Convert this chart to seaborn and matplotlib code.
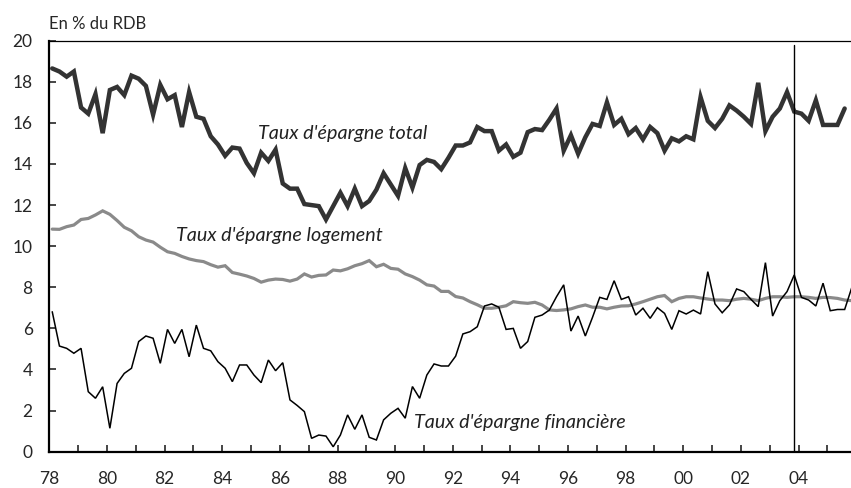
import numpy as np
import pandas as pd
import matplotlib
matplotlib.use("Agg")
import matplotlib.pyplot as plt
import seaborn as sns

# Quarterly saving rates, % of disposable income, from 1978 Q1
taux_total = [
    18.65, 18.5, 18.25, 18.5, 16.75, 16.45, 17.4, 15.5, 17.6, 17.75,
    17.35, 18.3, 18.15, 17.8, 16.4, 17.85, 17.15, 17.35, 15.8, 17.5,
    16.3, 16.2, 15.35, 14.95, 14.4, 14.8, 14.75, 14.05, 13.55, 14.55,
    14.15, 14.7, 13.05, 12.8, 12.8, 12.05, 12.0, 11.95, 11.3, 11.95,
    12.6, 11.95, 12.8, 11.95, 12.2, 12.75, 13.55, 13.0, 12.45, 13.8,
    12.85, 13.95, 14.2, 14.1, 13.75, 14.3, 14.9, 14.9, 15.05, 15.8,
    15.6, 15.6, 14.65, 14.95, 14.35, 14.55, 15.55, 15.7, 15.65, 16.15,
    16.7, 14.65, 15.4, 14.5, 15.3, 15.95, 15.85, 17.0, 15.9, 16.2,
    15.45, 15.75, 15.2, 15.8, 15.5, 14.65, 15.25, 15.1, 15.35, 15.2,
    17.25, 16.1, 15.75, 16.2, 16.85, 16.6, 16.3, 15.95, 17.95, 15.6,
    16.3, 16.7, 17.5, 16.55, 16.45, 16.1, 17.1, 15.9, 15.9, 15.9,
    16.7,
]
taux_logement = [
    10.83, 10.82, 10.95, 11.03, 11.3, 11.35, 11.52, 11.72, 11.55, 11.25,
    10.92, 10.75, 10.46, 10.3, 10.2, 9.95, 9.73, 9.65, 9.5, 9.38,
    9.3, 9.25, 9.1, 8.98, 9.05, 8.72, 8.64, 8.55, 8.43, 8.25,
    8.35, 8.4, 8.38, 8.3, 8.4, 8.65, 8.5, 8.58, 8.6, 8.84,
    8.8, 8.9, 9.05, 9.15, 9.3, 9.0, 9.12, 8.92, 8.88, 8.65,
    8.52, 8.35, 8.12, 8.06, 7.8, 7.8, 7.55, 7.48, 7.3, 7.15,
    6.98, 6.98, 7.03, 7.1, 7.3, 7.25, 7.22, 7.27, 7.14, 6.9,
    6.87, 6.9, 6.95, 7.06, 7.14, 7.03, 7.03, 6.95, 7.03, 7.09,
    7.1, 7.19, 7.3, 7.42, 7.54, 7.6, 7.3, 7.46, 7.54, 7.54,
    7.48, 7.43, 7.38, 7.38, 7.35, 7.42, 7.46, 7.42, 7.35, 7.46,
    7.54, 7.54, 7.51, 7.54, 7.54, 7.51, 7.46, 7.51, 7.5, 7.46,
    7.38, 7.35,
]
taux_financier = [
    6.81, 5.14, 5.03, 4.79, 5.03, 2.92, 2.6, 3.16, 1.14, 3.32,
    3.81, 4.06, 5.36, 5.63, 5.52, 4.3, 5.95, 5.27, 5.95, 4.62,
    6.16, 5.03, 4.91, 4.38, 4.06, 3.41, 4.22, 4.22, 3.73, 3.36,
    4.46, 3.94, 4.33, 2.52, 2.25, 1.95, 0.65, 0.81, 0.76, 0.24,
    0.81, 1.79, 1.09, 1.79, 0.7, 0.57, 1.55, 1.87, 2.11, 1.63,
    3.17, 2.6, 3.73, 4.27, 4.17, 4.17, 4.65, 5.73, 5.84, 6.08,
    7.09, 7.19, 7.03, 5.95, 6.0, 5.03, 5.36, 6.54, 6.65, 6.89,
    7.54, 8.12, 5.87, 6.6, 5.63, 6.54, 7.51, 7.41, 8.32, 7.41,
    7.54, 6.65, 6.98, 6.49, 7.01, 6.73, 5.95, 6.86, 6.7, 6.89,
    6.7, 8.76, 7.19, 6.76, 7.14, 7.92, 7.79, 7.41, 7.06, 9.2,
    6.6, 7.35, 7.79, 8.6, 7.51, 7.38, 7.09, 8.2, 6.86, 6.92,
    6.92, 8.0,
]

start_year = 1978
last_known = 103  # quarter index of the vertical marker (2003 Q4)
year_ticks = list(range(1978, 2006))
year_labels = [f"{y % 100:02d}" if y % 2 == 0 else "" for y in year_ticks]
y_ticks = list(range(0, 21, 2))


def quarter_dates(n):
    return start_year + 0.1 + np.arange(n) / 4


def main():
    sns.set_theme(style="white")
    plt.rcParams["font.family"] = ["Lato", "DejaVu Sans"]
    plt.rcParams["lines.solid_joinstyle"] = "miter"

    fig = plt.figure(figsize=(8.51, 4.88), dpi=100)
    ax = fig.add_axes([0.058, 0.0744, 0.942, 0.8422])

    series = [
        (taux_logement, "#8a8a8a", 2.3),
        (taux_financier, "black", 1.1),
        (taux_total, "#333333", 3.2),
    ]
    for values, color, lw in series:
        df = pd.DataFrame({"date": quarter_dates(len(values)), "taux": values})
        sns.lineplot(data=df, x="date", y="taux", ax=ax, color=color,
                     linewidth=lw, estimator=None, sort=False)

    ax.axvline(quarter_dates(last_known + 1)[-1], ymax=0.99, color="black", lw=1.0)

    ax.set_xlim(1978, 2005.82)
    ax.set_ylim(0, 20)
    ax.set_xticks(year_ticks)
    ax.set_xticklabels(year_labels)
    ax.set_yticks(y_ticks)
    ax.set_xlabel("")
    ax.set_ylabel("")
    ax.tick_params(axis="x", direction="in", length=5, width=1.2,
                   pad=14, labelsize=12.5, bottom=True)
    ax.tick_params(axis="y", direction="in", length=5, width=1.2,
                   pad=12, labelsize=12.5, left=True)

    for side in ["left", "bottom"]:
        ax.spines[side].set_linewidth(1.6)
        ax.spines[side].set_color("black")
    ax.spines["top"].set_linewidth(0.9)
    ax.spines["top"].set_color("black")
    ax.spines["right"].set_visible(False)

    label_style = dict(fontsize=14.2, style="italic", color="#222222", va="center")
    ax.text(1985.25, 15.5, "Taux d'épargne total", **label_style)
    ax.text(1982.4, 10.5, "Taux d'épargne logement", **label_style)
    ax.text(1990.65, 1.4, "Taux d'épargne financière", **label_style)

    fig.text(0.058, 0.951, "En % du RDB", fontsize=12, va="center", ha="left")

    fig.savefig("out.png", dpi=100)


if __name__ == "__main__":
    main()
